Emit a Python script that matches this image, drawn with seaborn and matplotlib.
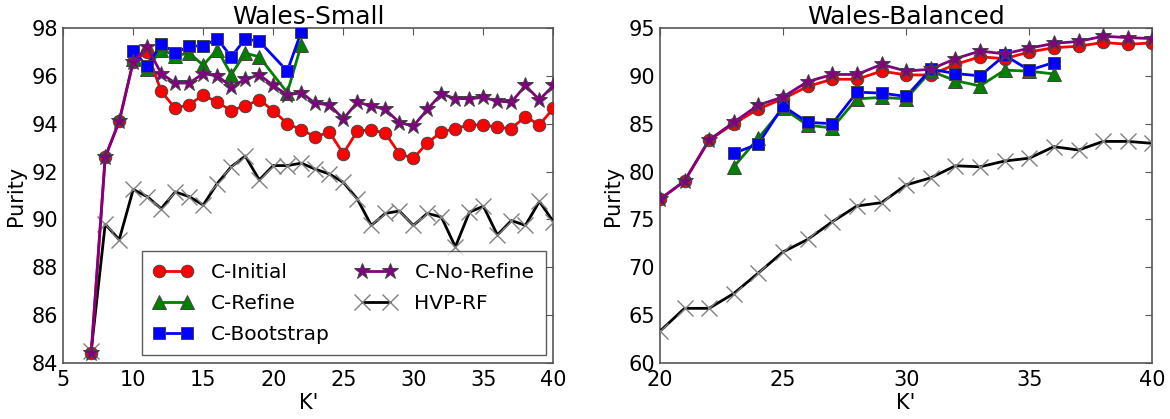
import numpy as np
import pandas as pd
import seaborn as sns
import matplotlib
matplotlib.use('Agg')
import matplotlib.pyplot as plt

# ---- Wales-Small data ----
small_k = list(range(7, 41))
small_initial = [84.4, 92.6, 94.1, 96.6, 97.0, 95.35, 94.65, 94.8, 95.2, 94.9, 94.55, 94.75,
                 95.0, 94.55, 94.0, 93.75, 93.45, 93.65, 92.75, 93.7, 93.75, 93.6, 92.75, 92.55,
                 93.2, 93.65, 93.8, 93.95, 93.95, 93.85, 93.8, 94.3, 93.95, 94.65]
small_norefine = [84.4, 92.6, 94.1, 96.6, 97.2, 96.1, 95.7, 95.7, 96.1, 96.0, 95.55, 95.85,
                  96.05, 95.6, 95.2, 95.3, 94.85, 94.8, 94.2, 94.9, 94.75, 94.6, 94.05, 93.9,
                  94.6, 95.25, 95.05, 95.05, 95.1, 94.95, 94.9, 95.6, 95.0, 95.6]
small_hvp = [84.5, 89.8, 89.15, 91.25, 90.95, 90.45, 91.15, 90.95, 90.6, 91.5, 92.2, 92.65,
             91.65, 92.25, 92.25, 92.35, 92.1, 91.9, 91.55, 90.85, 89.75, 90.25, 90.35, 89.75,
             90.25, 90.1, 88.85, 90.3, 90.55, 89.35, 89.95, 89.75, 90.75, 89.9]
small_sub_k = [10, 11, 12, 13, 14, 15, 16, 17, 18, 19, 21, 22]
small_refine = [96.7, 96.3, 97.1, 96.85, 96.95, 96.45, 97.1, 96.05, 96.95, 96.8, 95.3, 97.3]
small_boot = [97.05, 96.4, 97.35, 96.95, 97.25, 97.25, 97.55, 96.8, 97.55, 97.45, 96.2, 97.85]

# ---- Wales-Balanced data ----
bal_k = list(range(20, 41))
bal_initial = [77.1, 79.0, 83.3, 85.0, 86.55, 87.6, 88.9, 89.65, 89.65, 90.5, 90.1, 90.1,
               91.2, 92.0, 91.8, 92.5, 92.95, 93.1, 93.5, 93.3, 93.45]
bal_norefine = [77.1, 79.0, 83.3, 85.15, 86.95, 87.8, 89.4, 90.15, 90.15, 91.2, 90.5, 90.7,
                91.8, 92.6, 92.3, 92.9, 93.4, 93.6, 94.15, 94.0, 93.9]
bal_hvp = [63.3, 65.7, 65.7, 67.25, 69.4, 71.6, 72.9, 74.75, 76.4, 76.75, 78.6, 79.35,
           80.6, 80.5, 81.1, 81.4, 82.6, 82.25, 83.15, 83.15, 82.95]
bal_sub_k = list(range(23, 37))
bal_refine = [80.5, 83.5, 86.6, 84.85, 84.55, 87.6, 87.75, 87.6, 90.5, 89.5, 88.95, 90.6,
              90.5, 90.2]
bal_boot = [81.9, 82.9, 86.85, 85.15, 85.0, 88.3, 88.2, 87.85, 90.7, 90.25, 90.0, 92.15,
            90.6, 91.4]

sns.set_style('white')
plt.rcParams['font.family'] = ['DejaVu Sans']
plt.rcParams['xtick.direction'] = 'in'
plt.rcParams['ytick.direction'] = 'in'
for key in ['text.color', 'axes.labelcolor', 'xtick.labelcolor', 'ytick.labelcolor']:
    plt.rcParams[key] = 'black'

fig = plt.figure(figsize=(11.7, 4.19), dpi=100)
ax1 = fig.add_axes([0.054, 0.134, 0.419, 0.799])
ax2 = fig.add_axes([0.564, 0.134, 0.421, 0.799])


def draw(ax, x, y, label, color, marker, ms, mec, mew=0.7):
    sns.lineplot(x=x, y=y, ax=ax, color=color, marker=marker, markersize=ms,
                 markeredgecolor=mec, markeredgewidth=mew, linewidth=2,
                 label=label, legend=False, zorder=3)


for ax, k, ini, nor, hvp, sk, ref, boot in [
        (ax1, small_k, small_initial, small_norefine, small_hvp, small_sub_k, small_refine, small_boot),
        (ax2, bal_k, bal_initial, bal_norefine, bal_hvp, bal_sub_k, bal_refine, bal_boot)]:
    draw(ax, k, hvp, 'HVP-RF', 'black', 'x', 12, 'gray', 1.0)
    draw(ax, k, ini, 'C-Initial', 'red', 'o', 9, '#444444')
    draw(ax, sk, ref, 'C-Refine', 'green', '^', 10, '#444444')
    draw(ax, sk, boot, 'C-Bootstrap', 'blue', 's', 9, '#444444')
    draw(ax, k, nor, 'C-No-Refine', 'purple', '*', 12, '#444444')
    ax.set_ylabel('Purity', fontsize=15)
    ax.set_xlabel("K'", fontsize=15, labelpad=2)
    ax.tick_params(labelsize=15, top=True, right=True, length=5, width=0.8, color='#555555')
    ax.tick_params(axis='x', pad=5)
    for s in ax.spines.values():
        s.set_color('#555555')
        s.set_linewidth(1.2)

ax1.set_xlim(5, 40)
ax1.set_ylim(84, 98)
ax1.set_xticks(range(5, 41, 5))
ax1.set_yticks(range(84, 99, 2))
ax1.set_title('Wales-Small', fontsize=18, pad=3)

ax2.set_xlim(20, 40)
ax2.set_ylim(60, 95)
ax2.set_xticks(range(20, 41, 5))
ax2.set_yticks(range(60, 96, 5))
ax2.set_title('Wales-Balanced', fontsize=18, pad=3)

handles, labels = ax1.get_legend_handles_labels()
order = ['C-Initial', 'C-Refine', 'C-Bootstrap', 'C-No-Refine', 'HVP-RF']
hmap = dict(zip(labels, handles))
leg = ax1.legend([hmap[l] for l in order], order, loc='lower right', ncol=2,
                 fontsize=14.5, numpoints=2, fancybox=False, frameon=True,
                 bbox_to_anchor=(0.984, 0.024), borderaxespad=0, handlelength=2.0,
                 handletextpad=0.9, columnspacing=1.3, borderpad=0.55, labelspacing=0.6)
leg.get_frame().set_edgecolor('#333333')
leg.get_frame().set_linewidth(1.0)

fig.savefig('out.png', dpi=100)
